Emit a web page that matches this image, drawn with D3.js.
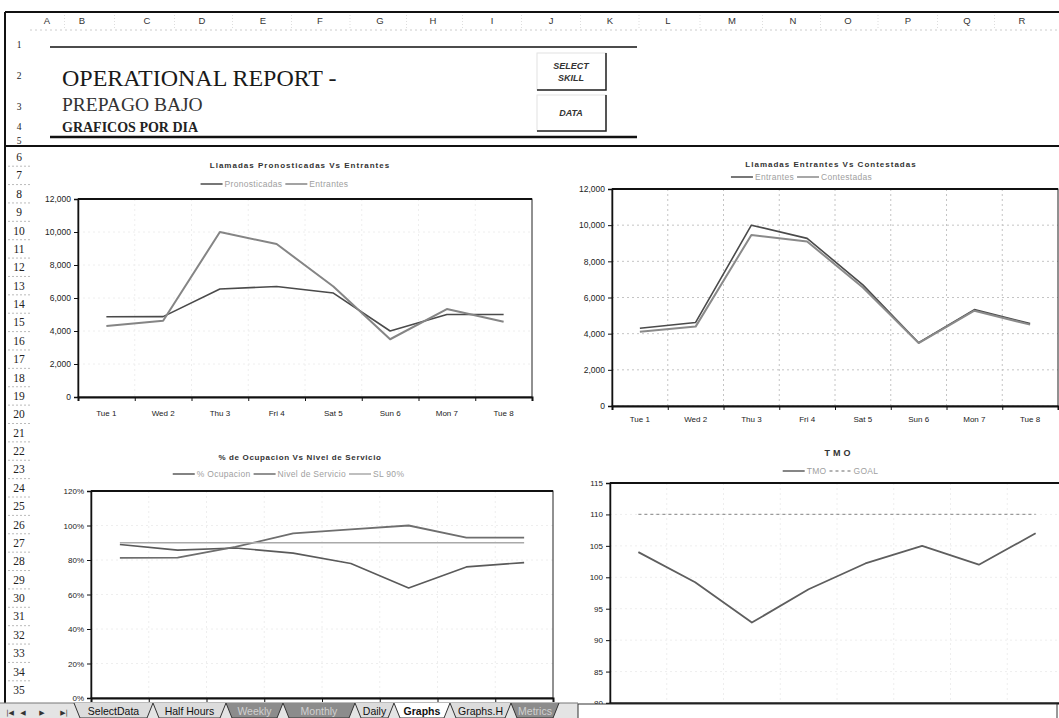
<!DOCTYPE html>
<html>
<head>
<meta charset="utf-8">
<script src="https://cdn.jsdelivr.net/npm/d3@7"></script>
<style>
  body { margin: 0; background: #fff; }
  svg { display: block; }
</style>
</head>
<body>
<svg id="sheet" width="1059" height="718"></svg>
<script>
// ---- data ----
const days = ["Tue 1", "Wed 2", "Thu 3", "Fri 4", "Sat 5", "Sun 6", "Mon 7", "Tue 8"];

const pronosticadas = [4860, 4870, 6550, 6700, 6300, 4000, 5000, 5000];
const entrantes = [4300, 4620, 10000, 9270, 6700, 3500, 5330, 4560];
const contestadas = [4100, 4390, 9460, 9100, 6550, 3480, 5270, 4500];

const ocupacion = [89, 85.7, 87, 84, 78, 63.8, 76, 78.5];
const nivelServicio = [81.2, 81.4, 87.6, 95.4, 97.7, 100, 93, 93];
const slMeta = [90, 90, 90, 90, 90, 90, 90, 90];

const tmo = [104, 99.2, 92.8, 98.1, 102.2, 105, 102, 107];
const tmoGoal = [110, 110, 110, 110, 110, 110, 110, 110];

const callTicks = [0, 2000, 4000, 6000, 8000, 10000, 12000];
const pctTicks = [0, 20, 40, 60, 80, 100, 120];
const tmoTicks = [80, 85, 90, 95, 100, 105, 110, 115];

const columnLetters = ["A", "B", "C", "D", "E", "F", "G", "H", "I", "J", "K", "L", "M", "N", "O", "P", "Q", "R"];
const rowNumbers = d3.range(1, 36);
const sheetTabs = ["SelectData", "Half Hours", "Weekly", "Monthly", "Daily", "Graphs", "Graphs.H", "Metrics"];
const darkTabs = ["Weekly", "Monthly", "Metrics"];
const activeTab = "Graphs";

// ---- layout ----
const W = 1059, H = 718;
const SANS = "'Liberation Sans', Arial, sans-serif";
const SERIF = "'Liberation Serif', 'Times New Roman', serif";
const colCenters = [47, 82, 147, 202, 263, 320, 380, 433, 492, 551, 610, 668, 732, 793, 848, 908, 967, 1022];
const topRowsY = [44, 75, 106, 126, 140];
const rowY = d3.scaleLinear().domain([6, 35]).range([157, 690]);
const tabEdges = [74, 153, 226, 283, 355, 394, 450, 511, 559];

const svg = d3.select("#sheet");

// Spreadsheet frame
svg.append("rect").attr("width", W).attr("height", H).attr("fill", "#fff");

var frame = svg.append("g").attr("id", "frame");

// column header letters
frame.selectAll("text.col")
    .data(columnLetters)
    .enter().append("text")
    .attr("class", "col")
    .attr("x", (d, i) => colCenters[i])
    .attr("y", 24)
    .attr("text-anchor", "middle")
    .attr("font-family", SANS)
    .attr("font-size", 9.5)
    .attr("fill", "#333")
    .text(d => d);

// faint separators between column letters
frame.selectAll("line.colsep")
    .data(colCenters.slice(1))
    .enter().append("line")
    .attr("x1", (d, i) => (d + colCenters[i]) / 2)
    .attr("x2", (d, i) => (d + colCenters[i]) / 2)
    .attr("y1", 15).attr("y2", 29)
    .attr("stroke", "#ddd")
    .attr("stroke-dasharray", "1,2");

frame.append("line")
    .attr("x1", 30).attr("x2", W).attr("y1", 30).attr("y2", 30)
    .attr("stroke", "#ccc").attr("stroke-dasharray", "2,3");

// row numbers
const rowPos = r => r <= 5 ? topRowsY[r - 1] : rowY(r);
frame.selectAll("text.row")
    .data(rowNumbers)
    .enter().append("text")
    .attr("class", "row")
    .attr("x", 19)
    .attr("y", d => rowPos(d) + 4)
    .attr("text-anchor", "middle")
    .attr("font-family", SERIF)
    .attr("font-size", d => d <= 5 ? 9.5 : 11.5)
    .attr("fill", "#222")
    .text(d => d);

frame.selectAll("line.rowsep")
    .data(rowNumbers.filter(r => r >= 6 && r < 35))
    .enter().append("line")
    .attr("x1", 8).attr("x2", 32)
    .attr("y1", d => (rowPos(d) + rowPos(d + 1)) / 2)
    .attr("y2", d => (rowPos(d) + rowPos(d + 1)) / 2)
    .attr("stroke", "#bbb")
    .attr("stroke-dasharray", "2,2");

// outer frame lines
frame.append("line").attr("x1", 5).attr("x2", W).attr("y1", 12).attr("y2", 12)
    .attr("stroke", "#111").attr("stroke-width", 2);
frame.append("line").attr("x1", 5).attr("x2", 5).attr("y1", 12).attr("y2", 703)
    .attr("stroke", "#111").attr("stroke-width", 2);
frame.append("line").attr("x1", 5).attr("x2", W).attr("y1", 146).attr("y2", 146)
    .attr("stroke", "#111").attr("stroke-width", 2);

// ---- report header ----
var header = svg.append("g").attr("id", "header");
header.append("line").attr("x1", 50).attr("x2", 637).attr("y1", 47).attr("y2", 47)
    .attr("stroke", "#111").attr("stroke-width", 1.5);
header.append("line").attr("x1", 50).attr("x2", 637).attr("y1", 137).attr("y2", 137)
    .attr("stroke", "#111").attr("stroke-width", 2.5);
header.append("text").attr("x", 62).attr("y", 86)
    .attr("font-family", SERIF).attr("font-size", 24).attr("fill", "#1a1a1a")
    .text("OPERATIONAL REPORT -");
header.append("text").attr("x", 62).attr("y", 111)
    .attr("font-family", SERIF).attr("font-size", 19.5).attr("fill", "#333")
    .text("PREPAGO BAJO");
header.append("text").attr("x", 62).attr("y", 132)
    .attr("font-family", SERIF).attr("font-size", 14).attr("font-weight", "bold").attr("fill", "#222")
    .text("GRAFICOS POR DIA");

const buttons = [
    {lines: ["SELECT", "SKILL"], y0: 53, y1: 90},
    {lines: ["DATA"], y0: 95, y1: 131}
];
buttons.forEach(b => {
    const bg = header.append("g");
    bg.append("rect").attr("x", 537).attr("y", b.y0).attr("width", 69).attr("height", b.y1 - b.y0)
        .attr("fill", "#fff").attr("stroke", "#e2e2e2");
    bg.append("path")
        .attr("d", `M537,${b.y1} L606,${b.y1} L606,${b.y0}`)
        .attr("fill", "none").attr("stroke", "#222").attr("stroke-width", 1.5);
    const mid = (b.y0 + b.y1) / 2;
    b.lines.forEach((t, i) => {
        bg.append("text")
            .attr("x", 571)
            .attr("y", mid + 3 + (i - (b.lines.length - 1) / 2) * 12)
            .attr("text-anchor", "middle")
            .attr("font-family", SANS).attr("font-size", 9)
            .attr("font-style", "italic").attr("font-weight", "bold")
            .attr("fill", "#333")
            .text(t);
    });
});

// ---- line charts ----
function fmtThousands(d) { return d3.format(",")(d); }

/**
 * Draw one Excel-like line chart.
 */
function drawChart(opt) {
    var g = svg.append("g").attr("id", opt.id);

    const xi = d3.scaleLinear().domain([0, days.length]).range([opt.left, opt.right]);
    const y = d3.scaleLinear().domain(opt.yDomain).range([opt.bottom, opt.top]);
    const cx = i => xi(i + 0.5);

    // gridlines
    g.append("g").selectAll("line")
        .data(opt.yTicks)
        .enter().append("line")
        .attr("x1", opt.left).attr("x2", opt.right)
        .attr("y1", d => y(d)).attr("y2", d => y(d))
        .attr("stroke", opt.grid).attr("stroke-dasharray", "2,3");
    g.append("g").selectAll("line")
        .data(d3.range(1, days.length))
        .enter().append("line")
        .attr("x1", d => xi(d)).attr("x2", d => xi(d))
        .attr("y1", opt.top).attr("y2", opt.bottom)
        .attr("stroke", opt.grid).attr("stroke-dasharray", "2,3");

    // plot border
    g.append("rect")
        .attr("x", opt.left).attr("y", opt.top)
        .attr("width", opt.right - opt.left).attr("height", opt.bottom - opt.top)
        .attr("fill", "none").attr("stroke", "#222").attr("stroke-width", 1);
    g.append("line").attr("x1", opt.left).attr("x2", opt.right)
        .attr("y1", opt.top).attr("y2", opt.top)
        .attr("stroke", "#111").attr("stroke-width", 2);

    // y axis
    const yAxis = d3.axisLeft(y).tickValues(opt.yTicks).tickSize(4).tickPadding(3)
        .tickFormat(opt.yFormat);
    const ya = g.append("g").attr("transform", `translate(${opt.left},0)`).call(yAxis);
    ya.select(".domain").attr("stroke", "#111").attr("stroke-width", 1.5);
    ya.selectAll(".tick line").attr("stroke", "#111");
    ya.selectAll("text").attr("font-family", SANS).attr("font-size", opt.yFont || 8.5).attr("fill", "#222");

    // x axis: ticks at category boundaries
    const xAxis = d3.axisBottom(xi).tickValues(d3.range(0, days.length + 1)).tickSize(4).tickFormat("");
    const xa = g.append("g").attr("transform", `translate(0,${opt.bottom})`).call(xAxis);
    xa.select(".domain").attr("stroke", "#111").attr("stroke-width", 2);
    xa.selectAll(".tick line").attr("stroke", "#111");

    if (opt.xLabelY) {
        g.append("g").selectAll("text")
            .data(days)
            .enter().append("text")
            .attr("x", (d, i) => cx(i))
            .attr("y", opt.xLabelY)
            .attr("text-anchor", "middle")
            .attr("font-family", SANS).attr("font-size", 8)
            .attr("fill", "#222")
            .text(d => d);
    }

    // series lines
    const line = d3.line().x((d, i) => cx(i)).y(d => y(d));
    opt.series.forEach(s => {
        g.append("path")
            .datum(s.values)
            .attr("d", line)
            .attr("fill", "none")
            .attr("stroke", s.color)
            .attr("stroke-width", s.width)
            .attr("stroke-dasharray", s.dash || null)
            .attr("stroke-linejoin", "round");
    });

    // title
    g.append("text")
        .attr("x", opt.titleX).attr("y", opt.titleY)
        .attr("text-anchor", "middle")
        .attr("font-family", SANS).attr("font-size", opt.titleSize || 8)
        .attr("font-weight", "bold")
        .attr("letter-spacing", opt.titleSpacing)
        .attr("fill", "#333")
        .text(opt.title);

    // legend (laid out left to right, then centred)
    var lg = g.append("g");
    var xpos = 0;
    opt.series.forEach(s => {
        lg.append("line")
            .attr("x1", xpos).attr("x2", xpos + 22)
            .attr("y1", 0).attr("y2", 0)
            .attr("stroke", s.color).attr("stroke-width", 1.5)
            .attr("stroke-dasharray", s.dash || null);
        const t = lg.append("text")
            .attr("x", xpos + 24).attr("y", 3)
            .attr("font-family", SANS).attr("font-size", 8.5)
            .attr("letter-spacing", 0.3)
            .attr("fill", "#a0a0a0")
            .text(s.name);
        xpos += 24 + t.node().getComputedTextLength() + 3;
    });
    lg.attr("transform", `translate(${opt.legendX - xpos / 2},${opt.legendY})`);

    return g;
}

drawChart({
    id: "pronosticadas-vs-entrantes",
    title: "Llamadas Pronosticadas Vs Entrantes",
    titleX: 300, titleY: 168, titleSpacing: 1,
    legendX: 276, legendY: 184,
    left: 78, right: 532, top: 199, bottom: 397,
    yDomain: [0, 12000], yTicks: callTicks, yFormat: fmtThousands,
    xLabelY: 416,
    grid: "#eeeeee",
    series: [
        {name: "Pronosticadas", values: pronosticadas, color: "#4a4a4a", width: 1.6},
        {name: "Entrantes", values: entrantes, color: "#858585", width: 2}
    ]
});

drawChart({
    id: "entrantes-vs-contestadas",
    title: "Llamadas Entrantes Vs Contestadas",
    titleX: 831, titleY: 167, titleSpacing: 1,
    legendX: 803, legendY: 177,
    left: 612, right: 1058, top: 189, bottom: 406,
    yDomain: [0, 12000], yTicks: callTicks, yFormat: fmtThousands,
    xLabelY: 422,
    grid: "#c4c4c4",
    series: [
        {name: "Entrantes", values: entrantes, color: "#4a4a4a", width: 1.6},
        {name: "Contestadas", values: contestadas, color: "#8a8a8a", width: 2}
    ]
});

drawChart({
    id: "ocupacion-vs-nivel",
    title: "% de Ocupacion Vs Nivel de Servicio",
    titleX: 300, titleY: 460, titleSpacing: 0.65,
    legendX: 290, legendY: 474,
    left: 91, right: 553, top: 491, bottom: 698,
    yDomain: [0, 120], yTicks: pctTicks, yFormat: d => d + "%", yFont: 8,
    grid: "#eeeeee",
    series: [
        {name: "% Ocupacion", values: ocupacion, color: "#5a5a5a", width: 1.6},
        {name: "Nivel de Servicio", values: nivelServicio, color: "#6e6e6e", width: 1.8},
        {name: "SL 90%", values: slMeta, color: "#aaaaaa", width: 1.6}
    ]
});

drawChart({
    id: "tmo",
    title: "TMO",
    titleX: 839, titleY: 456, titleSize: 9, titleSpacing: 3,
    legendX: 832, legendY: 471,
    left: 610, right: 1064, top: 483, bottom: 703,
    yDomain: [80, 115], yTicks: tmoTicks, yFormat: d3.format("d"), yFont: 8,
    grid: "#eeeeee",
    series: [
        {name: "TMO", values: tmo, color: "#5e5e5e", width: 1.8},
        {name: "GOAL", values: tmoGoal, color: "#9a9a9a", width: 1.2, dash: "3,3"}
    ]
});

// ---- sheet tab bar ----
var tabs = svg.append("g").attr("id", "tabs");
tabs.append("rect").attr("x", 0).attr("y", 703).attr("width", 578).attr("height", 15)
    .attr("fill", "#e4e4e4");
tabs.append("line").attr("x1", 0).attr("x2", 578).attr("y1", 703).attr("y2", 703)
    .attr("stroke", "#777");

// navigation arrows
const navGlyphs = ["|◀", "◀", "▶", "▶|"];
const navX = [10, 23, 42, 64];
tabs.selectAll("text.nav")
    .data(navGlyphs)
    .enter().append("text")
    .attr("x", (d, i) => navX[i]).attr("y", 715)
    .attr("text-anchor", "middle")
    .attr("font-family", "'DejaVu Sans', sans-serif").attr("font-size", 7)
    .attr("fill", "#333")
    .text(d => d);

sheetTabs.forEach((name, i) => {
    const x0 = tabEdges[i], x1 = tabEdges[i + 1];
    const dark = darkTabs.includes(name);
    const active = name === activeTab;
    tabs.append("path")
        .attr("d", `M${x0},703 L${x0 + 6},718 L${x1 - 6},718 L${x1},703`)
        .attr("fill", active ? "#fff" : dark ? "#8c8c8c" : "#dcdcdc")
        .attr("stroke", "#333").attr("stroke-width", 1);
    tabs.append("text")
        .attr("x", (x0 + x1) / 2).attr("y", 715)
        .attr("text-anchor", "middle")
        .attr("font-family", SANS).attr("font-size", 10.5)
        .attr("font-weight", active ? "bold" : "normal")
        .attr("fill", dark ? "#d0d0d0" : "#111")
        .text(name);
});

// white panel covering the bottom-right corner
svg.append("rect").attr("x", 578).attr("y", 704).attr("width", 479).attr("height", 20)
    .attr("fill", "#fff").attr("stroke", "#333").attr("stroke-width", 1);
</script>
</body>
</html>
